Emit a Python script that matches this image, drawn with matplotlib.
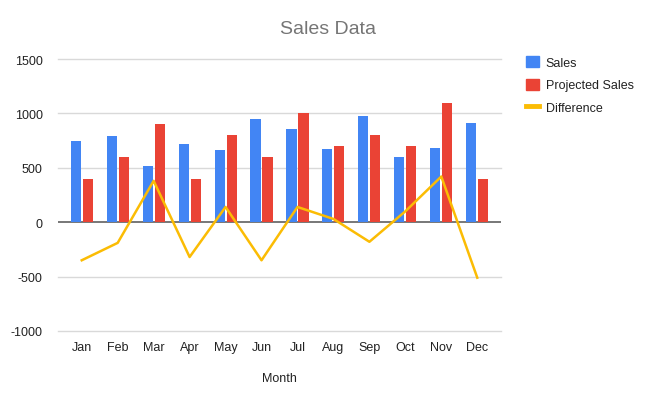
import numpy as np
import matplotlib.pyplot as plt
from matplotlib.patches import Patch
from matplotlib.lines import Line2D

plt.rcParams['font.family'] = ['Liberation Sans', 'DejaVu Sans']

months = ["Jan", "Feb", "Mar", "Apr", "May", "Jun", "Jul", "Aug", "Sep", "Oct", "Nov", "Dec"]
sales = [750, 790, 520, 720, 660, 950, 860, 670, 980, 600, 680, 910]
projected = [400, 600, 900, 400, 800, 600, 1000, 700, 800, 700, 1100, 400]
difference = [p - s for p, s in zip(projected, sales)]

blue = "#4285F4"
red = "#EA4335"
yellow = "#FBBC04"

fig = plt.figure(figsize=(6.55, 4.02), dpi=100)
ax = fig.add_axes([58 / 655, 1 - 332 / 402, (501 - 58) / 655, (332 - 60) / 402])

x = np.arange(len(months))
w = 0.28
off = 0.167
ax.bar(x - off, sales, width=w, color=blue, zorder=3)
ax.bar(x + off, projected, width=w, color=red, zorder=3)
ax.plot(x, difference, color=yellow, lw=1.8, zorder=4)

ax.set_xlim(-0.66, 11.66)
ax.set_ylim(-1000, 1500)
ax.set_yticks([-1000, -500, 0, 500, 1000, 1500])
ax.set_yticklabels(["-1000", "-500", "0", "500", "1000", "1500"])
for v in [-1000, -500, 500, 1000, 1500]:
    ax.axhline(v, color="#d9d9d9", lw=1, zorder=1, clip_on=False)
ax.axhline(0, color="#777777", lw=1.4, zorder=2)

ax.set_xticks(x)
ax.set_xticklabels(months)
for s in ax.spines.values():
    s.set_visible(False)
ax.tick_params(axis="both", length=0, labelsize=9, colors="#222222")
ax.tick_params(axis="y", pad=11)
ax.tick_params(axis="x", pad=7)
ax.set_xlabel("Month", fontsize=9, color="#222222", labelpad=14)

fig.text(0.5, 1 - 29 / 402, "Sales Data", ha="center", va="center", fontsize=14, color="#757575")

handles = [
    Patch(facecolor=blue, edgecolor=blue),
    Patch(facecolor=red, edgecolor=red),
    Line2D([0], [0], color=yellow, lw=3.5),
]
fig.legend(handles, ["Sales", "Projected Sales", "Difference"], loc="upper left",
           bbox_to_anchor=(515 / 655, 1 - 46 / 402), frameon=False, fontsize=9,
           handlelength=1.0, handleheight=1.0, handletextpad=0.55, labelspacing=0.75,
           labelcolor="#222222")

fig.savefig("out.png", dpi=100)
